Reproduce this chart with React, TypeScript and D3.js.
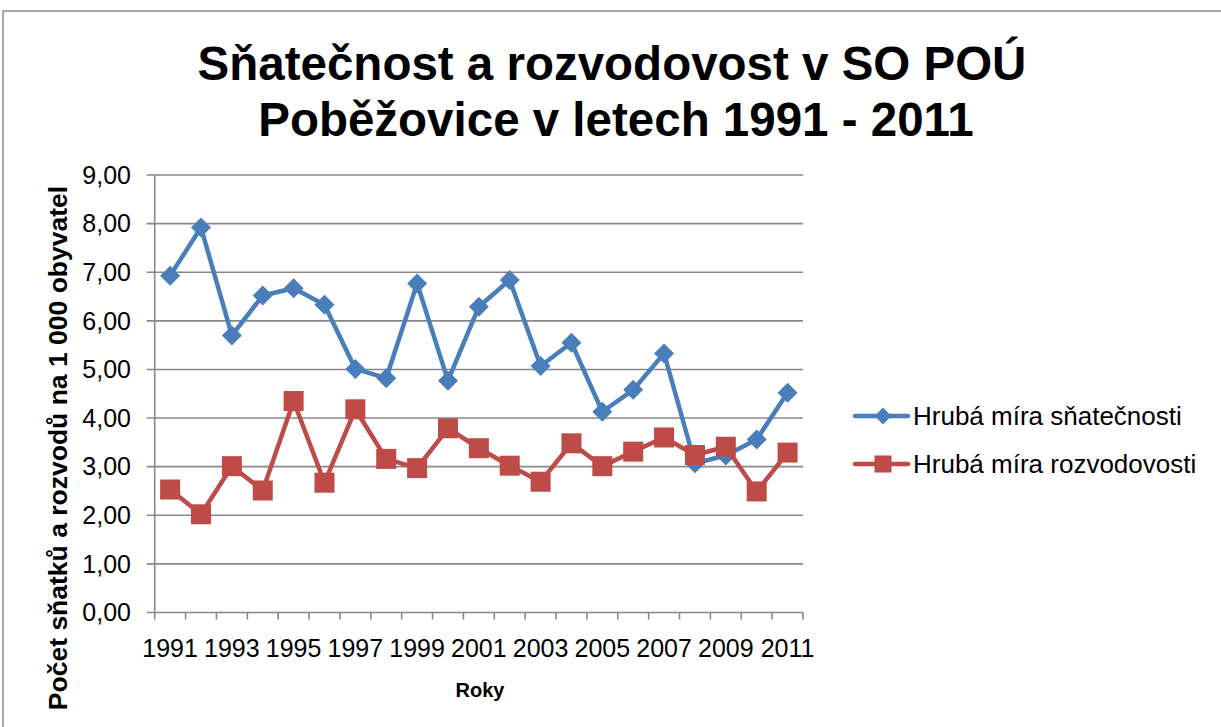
import React from 'react';
import * as d3 from 'd3';

const years = [
  '1991', '1992', '1993', '1994', '1995', '1996', '1997', '1998', '1999', '2000', '2001',
  '2002', '2003', '2004', '2005', '2006', '2007', '2008', '2009', '2010', '2011'
];
const marriages = [
  6.93, 7.92, 5.70, 6.52, 6.67, 6.33, 5.01, 4.82, 6.77, 4.77, 6.29,
  6.84, 5.07, 5.55, 4.13, 4.58, 5.33, 3.07, 3.23, 3.56, 4.52
];
const divorces = [
  2.53, 2.02, 3.01, 2.51, 4.35, 2.67, 4.18, 3.16, 2.97, 3.79, 3.38,
  3.02, 2.69, 3.48, 3.01, 3.31, 3.60, 3.24, 3.41, 2.49, 3.29
];
const yTicks = [0, 1, 2, 3, 4, 5, 6, 7, 8, 9];
const seriesNames = ['Hrubá míra sňatečnosti', 'Hrubá míra rozvodovosti'];
const titleLines = ['Sňatečnost a rozvodovost v SO POÚ', 'Poběžovice v letech 1991 - 2011'];

const BLUE = '#4A7EBB';
const RED = '#BE4B48';
const GRID = '#888888';
const FONT = '"Liberation Sans", Arial, sans-serif';

export default function App() {
  const width = 1221, height = 727;
  const left = 154.7, right = 803, top = 175, bottom = 612.5;

  const x = d3.scaleBand().domain(years).range([left, right]);
  const y = d3.scaleLinear().domain([0, 9]).range([bottom, top]);
  const cx = (d: string) => (x(d) as number) + x.bandwidth() / 2;

  const line = d3.line<number>()
    .x((d, i) => cx(years[i]))
    .y(d => y(d));

  const diamond = (px: number, py: number, r: number) =>
    `M${px},${py - r}L${px + r},${py}L${px},${py + r}L${px - r},${py}Z`;

  const bounds = x.domain().map(d => x(d) as number).concat([right]);

  return (
    <svg width={width} height={height} style={{ position: 'absolute', left: 0, top: 0, background: '#fff' }}
      fontFamily={FONT}>
      {/* chart frame */}
      <path d={`M3,${height}V11H${width}`} fill="none" stroke="#8a8a8a" strokeWidth={1.5} />

      {/* title */}
      <text x={612} y={80} textAnchor="middle" fontSize={47.5} fontWeight="bold">{titleLines[0]}</text>
      <text x={616} y={136} textAnchor="middle" fontSize={47.5} fontWeight="bold">{titleLines[1]}</text>

      {/* gridlines */}
      {yTicks.map(t => (
        <line key={'g' + t} x1={left - 8} x2={right} y1={y(t)} y2={y(t)} stroke={GRID} strokeWidth={1.6} />
      ))}
      {yTicks.map(t => (
        <text key={'yl' + t} x={131} y={y(t)} dy="0.35em" textAnchor="end" fontSize={25}>
          {d3.format('.2f')(t).replace('.', ',')}
        </text>
      ))}

      {/* axes */}
      <line x1={left} x2={left} y1={top} y2={bottom} stroke={GRID} strokeWidth={1.6} />
      {bounds.map((b, i) => (
        <line key={'xt' + i} x1={b} x2={b} y1={bottom} y2={bottom + 7} stroke={GRID} strokeWidth={1.6} />
      ))}
      {years.filter((d, i) => i % 2 === 0).map(d => (
        <text key={'xl' + d} x={cx(d)} y={657} textAnchor="middle" fontSize={25}>{d}</text>
      ))}

      <text x={480} y={697} textAnchor="middle" fontSize={20} fontWeight="bold">Roky</text>
      <text transform="translate(67,448) rotate(-90)" textAnchor="middle" fontSize={26.5} fontWeight="bold">
        Počet sňatků a rozvodů na 1 000 obyvatel
      </text>

      {/* series */}
      <path d={line(marriages) as string} fill="none" stroke={BLUE} strokeWidth={4.5} strokeLinejoin="round" />
      {marriages.map((v, i) => (
        <path key={'m' + i} d={diamond(cx(years[i]), y(v), 10)} fill={BLUE} />
      ))}
      <path d={line(divorces) as string} fill="none" stroke={RED} strokeWidth={4.5} strokeLinejoin="round" />
      {divorces.map((v, i) => (
        <rect key={'d' + i} x={cx(years[i]) - 10} y={y(v) - 10} width={20} height={20} fill={RED} />
      ))}

      {/* legend */}
      <line x1={855} x2={908} y1={416} y2={416} stroke={BLUE} strokeWidth={4.5} strokeLinecap="round" />
      <path d={diamond(883, 416, 8.5)} fill={BLUE} />
      <text x={913} y={416} dy="0.35em" fontSize={26}>{seriesNames[0]}</text>
      <line x1={855} x2={908} y1={464} y2={464} stroke={RED} strokeWidth={4.5} strokeLinecap="round" />
      <rect x={874.5} y={455.5} width={17} height={17} fill={RED} />
      <text x={913} y={464} dy="0.35em" fontSize={26}>{seriesNames[1]}</text>
    </svg>
  );
}
